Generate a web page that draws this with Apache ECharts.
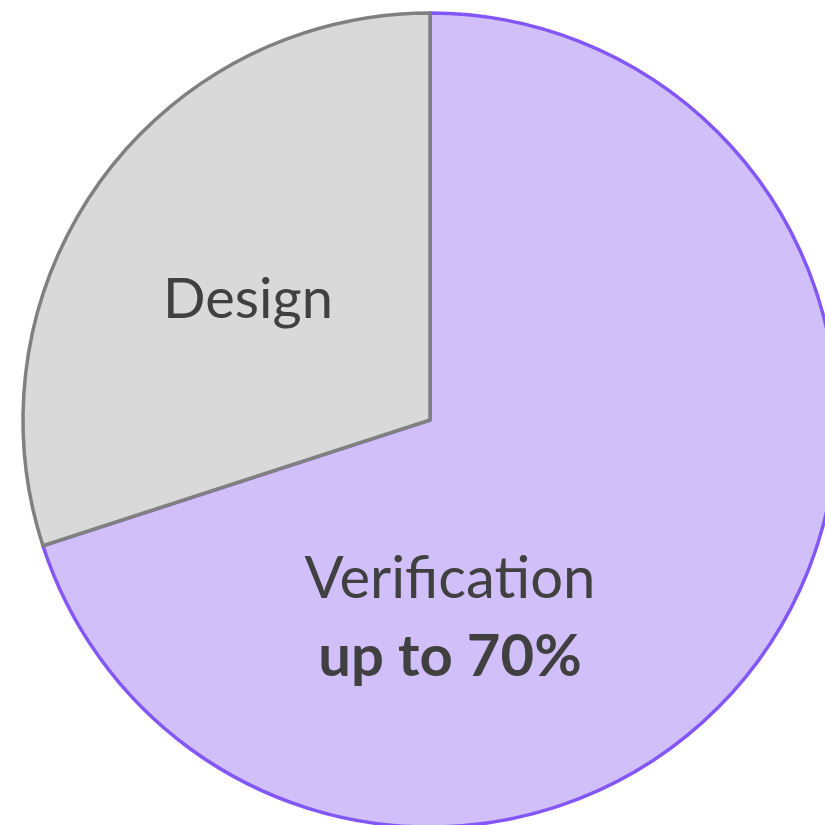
<!DOCTYPE html>
<html>
<head>
<meta charset="utf-8">
<script src="https://cdn.jsdelivr.net/npm/echarts@6/dist/echarts.min.js"></script>
<style>html,body{margin:0;padding:0;background:#fff}#c{width:825px;height:825px}</style>
</head>
<body>
<div id="c"></div>
<script>
const categories = ['Verification', 'Design'];
const values = [70, 30];
const subLabels = ['up to 70%', ''];

const fills = ['#D1BFFA', '#D9D9D9'];
const borders = ['#8357F5', '#808080'];
const labelPos = [[450, 618], [248, 300]];
const labelSizes = [58, 56];

const chart = echarts.init(document.getElementById('c'), null, {renderer: 'canvas'});
chart.setOption({
  animation: false,
  backgroundColor: '#ffffff',
  series: [{
    type: 'pie',
    center: [430, 420],
    radius: 407,
    startAngle: 90,
    clockwise: true,
    silent: true,
    data: categories.map((c, i) => ({
      name: c,
      value: values[i],
      itemStyle: {color: fills[i], borderColor: borders[i], borderWidth: 3.5}
    })),
    label: {
      show: true,
      position: 'inside',
      color: '#404040',
      fontFamily: 'Lato',
      formatter: function (p) {
        const s = subLabels[p.dataIndex];
        return s ? '{a|' + p.name + '}\n{b|' + s + '}' : '{d|' + p.name + '}';
      },
      rich: {
        a: {fontSize: labelSizes[0], fontFamily: 'Lato', color: '#404040', lineHeight: 78},
        b: {fontSize: labelSizes[0], fontFamily: 'Lato', fontWeight: 'bold', color: '#404040', lineHeight: 78},
        d: {fontSize: labelSizes[1], fontFamily: 'Lato', color: '#404040', lineHeight: 78}
      }
    },
    labelLine: {show: false},
    labelLayout: function (p) {
      const pos = labelPos[p.dataIndex];
      return {x: pos[0], y: pos[1], align: 'center', verticalAlign: 'middle'};
    }
  }]
});
</script>
</body>
</html>
